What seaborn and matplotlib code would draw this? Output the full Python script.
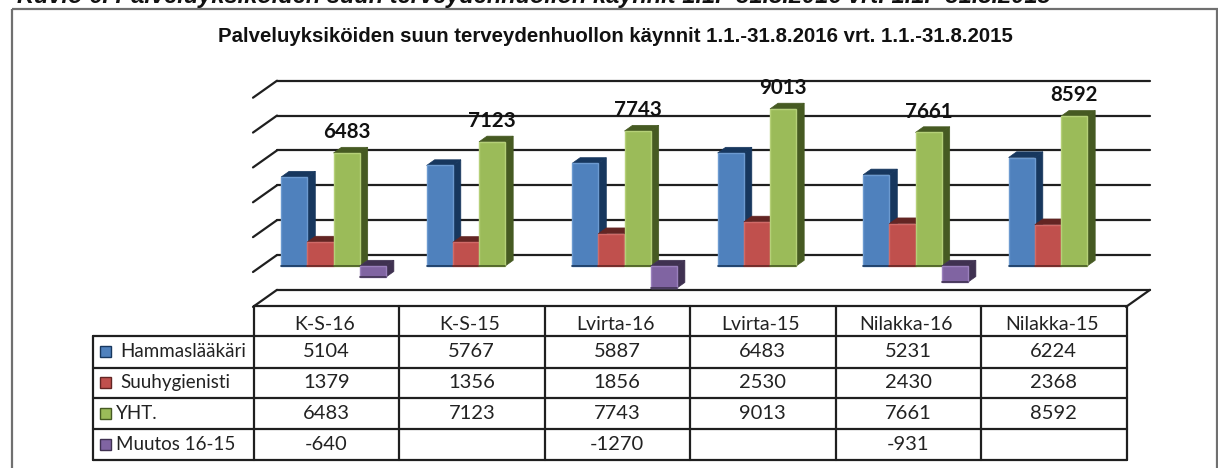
import numpy as np
import pandas as pd
import matplotlib
matplotlib.use("Agg")
import matplotlib.pyplot as plt
from matplotlib.colors import to_rgba
from matplotlib.patches import Polygon, Rectangle
import seaborn as sns

units = ["K-S-16", "K-S-15", "Lvirta-16", "Lvirta-15", "Nilakka-16", "Nilakka-15"]
hammas = [5104, 5767, 5887, 6483, 5231, 6224]
suuhyg = [1379, 1356, 1856, 2530, 2430, 2368]
yht = [6483, 7123, 7743, 9013, 7661, 8592]
muutos = [-640, np.nan, -1270, np.nan, -931, np.nan]
series_names = ["Hammaslääkäri", "Suuhygienisti", "YHT.", "Muutos 16-15"]
series_vals = [hammas, suuhyg, yht, muutos]
front_cols = ["#4F81BD", "#C0504D", "#9BBB59", "#8064A2"]
edge_cols = ["#6C9AD0", "#D06B68", "#B5D078", "#9A80BC"]
side_cols = ["#17375E", "#632523", "#465A22", "#3F3151"]
grid_vals = np.arange(-2000, 10001, 2000)

title = "Palveluyksiköiden suun terveydenhuollon käynnit 1.1.-31.8.2016 vrt. 1.1.-31.8.2015"
caption = "Kuvio 6. Palveluyksiköiden suun terveydenhuollon käynnit 1.1.- 31.8.2016 vrt. 1.1.- 31.8.2015"

W, H = 1218, 468
LINE = "#1f1f1f"

# long table for seaborn
rows = []
for name, vals in zip(series_names, series_vals):
    for u, v in zip(units, vals):
        rows.append({"yksikko": u, "sarja": name, "kaynnit": v})
df = pd.DataFrame(rows)

sns.set_theme(style="white")
plt.rcParams["font.family"] = ["Lato", "DejaVu Sans"]

fig = plt.figure(figsize=(W / 100, H / 100), dpi=100, facecolor="white")

# background layer in pixel coordinates: frame, walls, table
bg = fig.add_axes([0, 0, 1, 1])
bg.set_xlim(0, W)
bg.set_ylim(H, 0)
bg.axis("off")

bg.add_patch(Rectangle((11.5, 8.5), 1205, 470, fill=False, ec="#707070", lw=1.6))
bg.text(17, 3, caption, ha="left", va="baseline", fontsize=17, fontweight="bold",
        fontstyle="italic", family="Liberation Sans", color="#111111")
bg.text(615, 37, title, ha="center", va="center", fontsize=14.7, fontweight="bold",
        family="Liberation Sans", color="#111111")

# 3D geometry of the chart, in pixels
px_per_unit = 113 / 6483
base_y = 266
cat_step = 145.5
first_center = 333.5
back_zero = 255
depth_x, depth_y = 24, 17
wall_l, wall_r = 253, 1150

for v in grid_vals:
    y = back_zero - v * px_per_unit
    bg.plot([wall_l, wall_l + depth_x], [y + depth_y, y], color=LINE, lw=1.6, solid_capstyle="round")
    bg.plot([wall_l + depth_x, wall_r], [y, y], color=LINE, lw=1.6)
floor_y = back_zero + 2000 * px_per_unit
bg.plot([wall_r, wall_r - depth_x], [floor_y, floor_y + depth_y], color=LINE, lw=1.6)

# data table below the chart
col_x = [253.5 + cat_step * i for i in range(7)]
row_y = [306, 336, 367.5, 398, 429, 460]
tab_left = 93
for y in row_y[1:]:
    bg.plot([tab_left, col_x[-1]], [y, y], color=LINE, lw=1.6)
bg.plot([col_x[0], col_x[-1]], [row_y[0], row_y[0]], color=LINE, lw=1.6)
bg.plot([tab_left, tab_left], [row_y[1], row_y[-1]], color=LINE, lw=1.6)
for x in col_x:
    bg.plot([x, x], [row_y[0], row_y[-1]], color=LINE, lw=1.6)

for i, u in enumerate(units):
    bg.text(col_x[i] + cat_step / 2 - 2, (row_y[0] + row_y[1]) / 2 + 4, u, ha="center", va="center",
            fontsize=14, color="#222222")
text_left = [120, 120, 116, 116]
for r, (name, vals) in enumerate(zip(series_names, series_vals)):
    cy = (row_y[r + 1] + row_y[r + 2]) / 2
    bg.add_patch(Rectangle((99.5, cy - 5.5), 11, 11, fc=front_cols[r], ec=side_cols[r], lw=1))
    bg.text(text_left[r], cy, name, ha="left", va="center", fontsize=13.5, color="#222222")
    for i, v in enumerate(vals):
        if not np.isnan(v):
            bg.text(col_x[i] + cat_step / 2, cy, str(int(v)), ha="center", va="center",
                    fontsize=14.5, color="#222222")

# bars
ax_left = first_center - cat_step / 2
ax_right = ax_left + cat_step * 6
ax_top, ax_bottom = 60, 300
ax = fig.add_axes([ax_left / W, 1 - ax_bottom / H, (ax_right - ax_left) / W, (ax_bottom - ax_top) / H])
ax.patch.set_alpha(0)
sns.barplot(data=df, x="yksikko", y="kaynnit", hue="sarja", hue_order=series_names,
            order=units, palette=front_cols, saturation=1, width=0.72, gap=0,
            errorbar=None, legend=False, ax=ax)
ax.set_xlim(-0.5, 5.5)
ax.set_ylim(-(ax_bottom - base_y) / px_per_unit, (base_y - ax_top) / px_per_unit)
ax.axis("off")

dx = 8 / cat_step
dy = 5.7 / px_per_unit
color_order = [to_rgba(c) for c in front_cols]
for p in list(ax.patches):
    j = color_order.index(p.get_facecolor())
    x0, w = p.get_x(), p.get_width()
    low, high = sorted([p.get_y(), p.get_y() + p.get_height()])
    x1 = x0 + w
    ax.add_patch(Polygon([(x1, low), (x1, high), (x1 + dx, high + dy), (x1 + dx, low + dy)],
                         fc=side_cols[j], ec=side_cols[j], lw=0.5, zorder=3 + 2 * j, clip_on=False))
    ax.add_patch(Polygon([(x0, high), (x1, high), (x1 + dx, high + dy), (x0 + dx, high + dy)],
                         fc=side_cols[j], ec=side_cols[j], lw=0.5, zorder=3 + 2 * j, clip_on=False))
    p.set_zorder(4 + 2 * j)
    p.set_edgecolor(edge_cols[j])
    p.set_linewidth(1)
    p.set_clip_on(False)
    # darker strip along the lower edge of the front face
    ax.plot([x0, x1], [low, low], color=side_cols[j], lw=1.2, zorder=4.5 + 2 * j, clip_on=False)
    if j == 2:
        ax.annotate(str(int(p.get_height())), (x0 + w / 2, high), xytext=(0, 15), textcoords="offset points",
                    ha="center", va="center", fontsize=14.8, fontweight="bold", color="#111111", zorder=20)

fig.savefig("out.png", dpi=100)
